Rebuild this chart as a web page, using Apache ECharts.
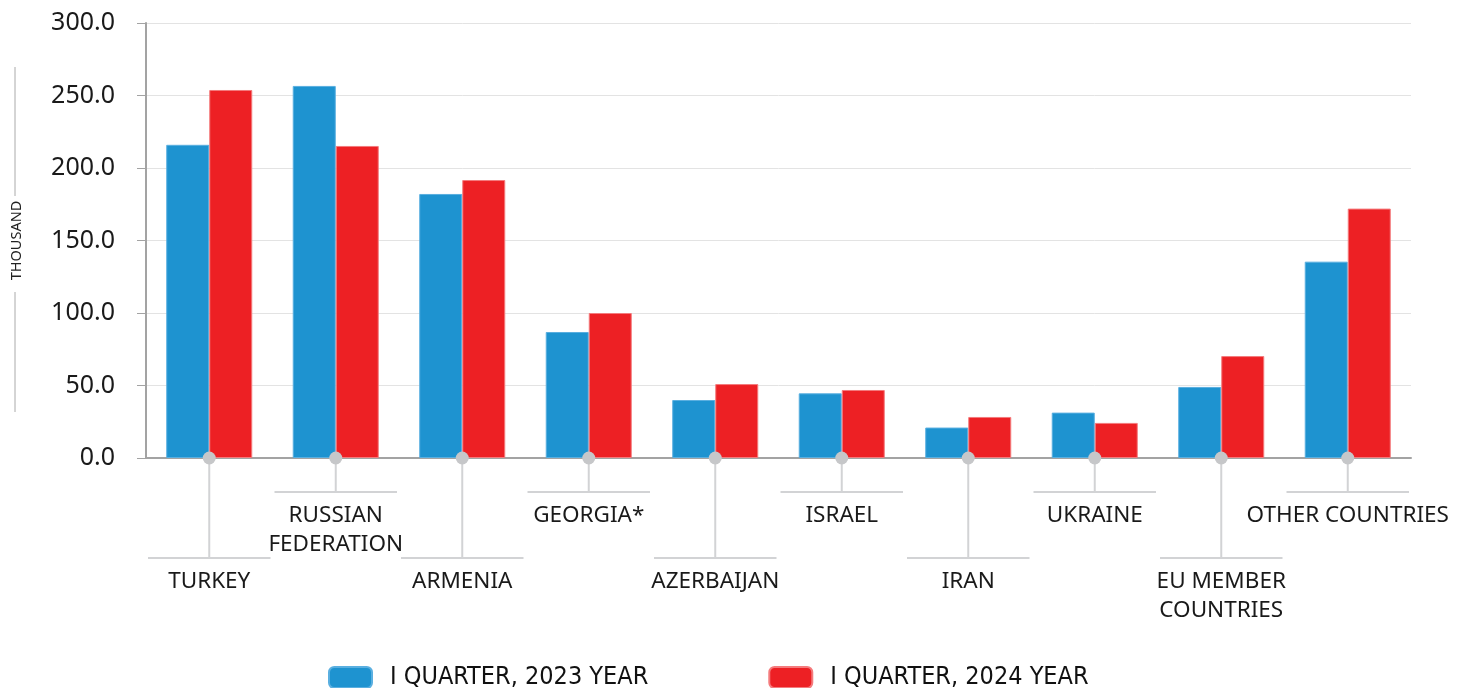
<!DOCTYPE html>
<html>
<head>
<meta charset="utf-8">
<script src="https://cdn.jsdelivr.net/npm/echarts@6/dist/echarts.min.js"></script>
<style>
  html, body { margin: 0; padding: 0; background: #fff; }
  #chart { width: 1464px; height: 688px; }
</style>
</head>
<body>
<div id="chart"></div>
<script>
// Countries / groups shown along the x axis
const categories = ['TURKEY', 'RUSSIAN\nFEDERATION', 'ARMENIA', 'GEORGIA*', 'AZERBAIJAN',
  'ISRAEL', 'IRAN', 'UKRAINE', 'EU MEMBER\nCOUNTRIES', 'OTHER COUNTRIES'];
// Values, thousand
const q2023 = [216.0, 256.6, 182.1, 86.9, 40.0, 44.6, 21.0, 31.3, 49.0, 135.4];
const q2024 = [253.8, 215.2, 191.7, 100.0, 51.0, 46.9, 28.3, 24.2, 70.3, 172.0];
const seriesNames = ['I QUARTER, 2023 YEAR', 'I QUARTER, 2024 YEAR'];
const yTicks = { min: 0, max: 300, interval: 50 };

const BLUE = '#1e93d0';
const RED = '#ed2024';
const LEADER = '#d2d3d5';
const FONT = "'Noto Sans', 'Open Sans', sans-serif";

const chart = echarts.init(document.getElementById('chart'));

// Leader lines, dots and staggered labels under each category
function renderLeader(params, api) {
  const idx = api.value(0);
  const p = api.coord([idx, 0]);
  const w = api.size([1, 0])[0];
  const low = idx % 2 === 0;
  const drop = low ? 100 : 34;
  const lineY = p[1] + drop;
  const textTop = lineY + 9;
  const half = w / 2 - 2;
  return {
    type: 'group',
    children: [
      { type: 'line', shape: { x1: p[0], y1: p[1], x2: p[0], y2: lineY },
        style: { stroke: LEADER, lineWidth: 2 } },
      { type: 'line', shape: { x1: p[0] - half, y1: lineY, x2: p[0] + half, y2: lineY },
        style: { stroke: LEADER, lineWidth: 2 } },
      { type: 'circle', shape: { cx: p[0], cy: p[1], r: 6.5 },
        style: { fill: '#c6c7c9' } },
      { type: 'text', x: p[0], y: textTop,
        style: { text: categories[idx], align: 'center', verticalAlign: 'top',
          fontSize: 22.5, fontFamily: FONT, fill: '#1a1a1a', lineHeight: 29 } }
    ]
  };
}

chart.setOption({
  animation: false,
  grid: { left: 146, right: 53, top: 23, bottom: 230, containLabel: false, outerBoundsMode: 'none' },
  legend: {
    data: seriesNames,
    left: 328, top: 665, padding: 0,
    itemWidth: 43, itemHeight: 21, itemGap: 120,
    icon: 'roundRect',
    textStyle: { fontSize: 25, fontFamily: "'Liberation Sans Narrow', 'DejaVu Sans Condensed', 'Noto Sans', sans-serif",
      color: '#111', lineHeight: 21, padding: [0, 0, 0, 13] }
  },
  xAxis: {
    type: 'category',
    data: categories,
    axisLine: { lineStyle: { color: '#a3a3a3', width: 2 } },
    axisTick: { show: false },
    axisLabel: { show: false }
  },
  yAxis: {
    type: 'value',
    min: yTicks.min, max: yTicks.max, interval: yTicks.interval,
    name: 'THOUSAND',
    nameLocation: 'middle',
    nameRotate: 90,
    nameGap: 122,
    nameTextStyle: { fontSize: 14.5, fontFamily: FONT, color: '#222' },
    axisLine: { show: true, lineStyle: { color: '#a3a3a3', width: 2 } },
    axisTick: { show: true, length: 9, lineStyle: { color: '#a3a3a3', width: 1 } },
    axisLabel: { formatter: v => v.toFixed(1), fontSize: 25, fontFamily: FONT,
      color: '#1a1a1a', margin: 31 },
    splitLine: { lineStyle: { color: '#e3e3e3', width: 1 } }
  },
  graphic: [
    { type: 'line', shape: { x1: 15, y1: 67, x2: 15, y2: 196 }, style: { stroke: '#aaa', lineWidth: 1 } },
    { type: 'line', shape: { x1: 15, y1: 292, x2: 15, y2: 412 }, style: { stroke: '#aaa', lineWidth: 1 } }
  ],
  series: [
    { name: seriesNames[0], type: 'bar', data: q2023, barGap: '0%', barCategoryGap: '32%',
      itemStyle: { color: BLUE, borderColor: '#5aafe0', borderWidth: 1 } },
    { name: seriesNames[1], type: 'bar', data: q2024,
      itemStyle: { color: RED, borderColor: '#f47b7d', borderWidth: 1 } },
    { type: 'custom', renderItem: renderLeader, clip: false, silent: true, z: 5,
      data: categories.map((c, i) => [i, 0]) }
  ]
});
</script>
</body>
</html>
